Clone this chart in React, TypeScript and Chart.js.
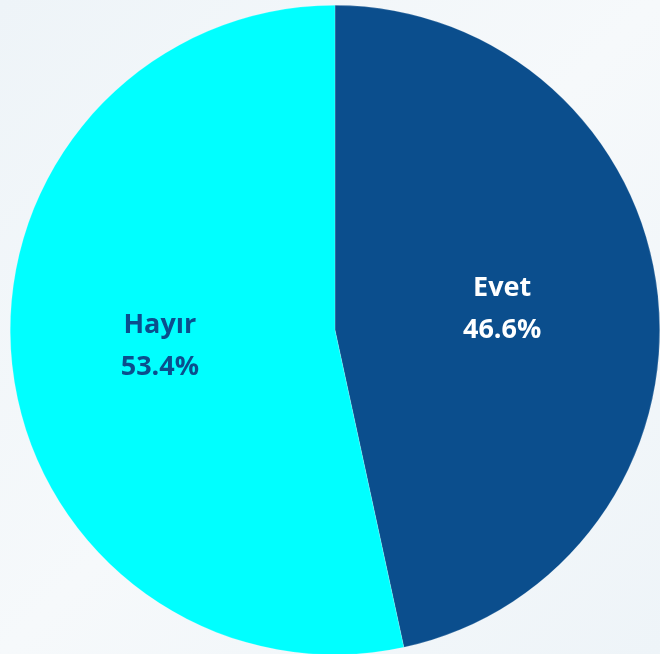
import React, { useEffect, useRef } from "react";
import { Chart, registerables } from "chart.js";

Chart.register(...registerables);

const categories = ["Evet", "Hayır"];
const values = [46.6, 53.4];
const colors = ["#0b4e8d", "#00ffff"];
const labelColors = ["#ffffff", "#0b4e8d"];

const labelPlugin = {
  id: "sliceLabels",
  afterDatasetsDraw(chart: any) {
    const ctx = chart.ctx;
    const meta = chart.getDatasetMeta(0);
    meta.data.forEach((arc: any, i: number) => {
      const p = arc.getProps(["x", "y", "startAngle", "endAngle", "outerRadius"], true);
      const mid = (p.startAngle + p.endAngle) / 2;
      const r = p.outerRadius * 0.53;
      const x = p.x + Math.cos(mid) * r - 4;
      const y = p.y + Math.sin(mid) * r;
      ctx.save();
      ctx.fillStyle = labelColors[i];
      ctx.textAlign = "center";
      ctx.textBaseline = "middle";
      ctx.font = "bold 27px 'Open Sans', sans-serif";
      ctx.fillText(categories[i], x, y - 23);
      ctx.font = "bold 27px 'Open Sans', sans-serif";
      ctx.fillText(values[i].toFixed(1) + "%", x, y + 19);
      ctx.restore();
    });
  },
};

export default function App() {
  const ref = useRef<HTMLCanvasElement | null>(null);
  useEffect(() => {
    document.body.style.margin = "0";
    const chart = new Chart(ref.current as HTMLCanvasElement, {
      type: "pie",
      data: {
        labels: categories,
        datasets: [
          {
            data: values,
            backgroundColor: colors,
            borderColor: "rgba(255,255,255,0.35)",
            borderWidth: 0.5,
          },
        ],
      },
      options: {
        animation: false,
        responsive: false,
        layout: { padding: 5 },
        plugins: {
          legend: { display: false },
          tooltip: { enabled: false },
        },
      },
      plugins: [labelPlugin],
    });
    return () => chart.destroy();
  }, []);
  return (
    <div
      style={{
        position: "fixed",
        left: 0,
        top: 0,
        width: 660,
        height: 654,
        overflow: "hidden",
        background: "linear-gradient(135deg, #eef4f8 0%, #f6f9fb 50%, #eef4f8 100%)",
      }}
    >
      <canvas ref={ref} width={670} height={660} style={{ display: "block" }} />
    </div>
  );
}
